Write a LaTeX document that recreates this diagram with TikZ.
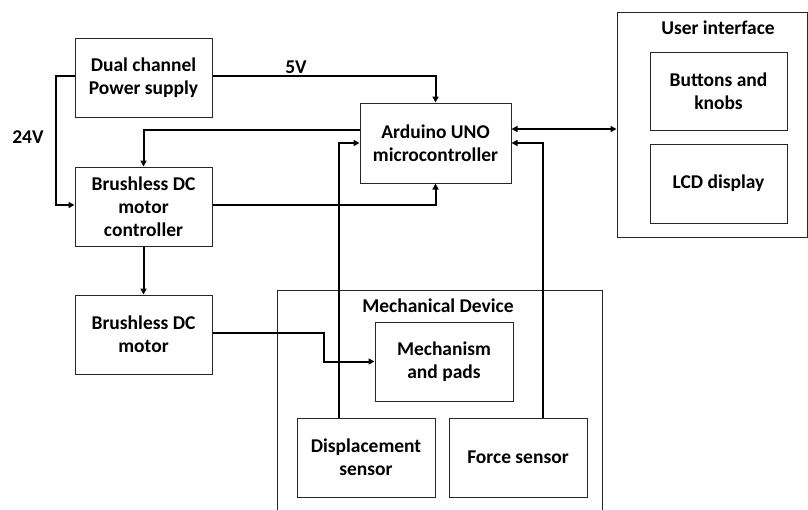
\documentclass[tikz,border=0pt]{standalone}
\usepackage{fontspec}
\setmainfont{Carlito}
\usetikzlibrary{arrows.meta,calc}
\tikzset{
  blk/.style={draw=black!85, line width=1pt, align=center, inner sep=0pt,
    font=\fontsize{19.5}{23}\selectfont\bfseries},
  ttl/.style={align=center, inner sep=0pt, font=\fontsize{19.5}{23}\selectfont\bfseries},
  conn/.style={line width=2pt, -{Triangle[length=6pt,width=6pt]}},
  wire/.style={line width=2pt}
}
\begin{document}
\begin{tikzpicture}[x=1pt,y=-1pt]
\useasboundingbox (0,0) rectangle (808,509);
\clip (0,0) rectangle (808,509);
% boxes
\node[blk, minimum width=137pt, minimum height=79pt] (ps) at (143.5,77.5) {Dual channel\\Power supply};
\node[blk, minimum width=151pt, minimum height=80pt] (ard) at (435.5,143) {Arduino UNO\\microcontroller};
\node[blk, minimum width=137pt, minimum height=79pt] (ctrl) at (143.5,206.5) {Brushless DC\\motor\\controller};
\node[blk, minimum width=137pt, minimum height=79pt] (motor) at (143.5,334.5) {Brushless DC\\motor};
\node[blk, minimum width=190pt, minimum height=225pt] (ui) at (712,124.5) {};
\node[ttl] (uit) at (718,28) {User interface};
\node[blk, minimum width=137pt, minimum height=78pt] (btn) at (718.5,91) {Buttons and\\knobs};
\node[blk, minimum width=137pt, minimum height=79pt] (lcd) at (718.5,183.5) {LCD display};
\node[blk, minimum width=325pt, minimum height=240pt] (mech) at (439.5,410) {};
\node[ttl] (mecht) at (438,306) {Mechanical Device};
\node[blk, minimum width=138pt, minimum height=79pt] (mp) at (444,361.5) {Mechanism\\and pads};
\node[blk, minimum width=138pt, minimum height=79pt] (disp) at (366,457.5) {Displacement\\sensor};
\node[blk, minimum width=138pt, minimum height=79pt] (force) at (518,457.5) {Force sensor};
% labels
\node[ttl] (l24) at (28,137) {24V};
\node[ttl] (l5) at (296,67) {5V};
% connectors
\draw[conn] ([yshift=1.5pt]ps.west) -- ++(-19,0) |- ([yshift=1.5pt]ctrl.west);
\draw[conn] ([yshift=1.5pt]ps.east) -| (ard.north);
\draw[conn] ([yshift=13pt]ard.west) -| (ctrl.north);
\draw[conn] ([yshift=1.5pt]ctrl.east) -| (ard.south);
\draw[conn] (ctrl.south) -- (motor.north);
\draw[conn] ([yshift=1.5pt]motor.east) -- ++(111,0) |- (mp.west);
\draw[conn] ([xshift=-27pt]disp.north) |- (ard.west);
\draw[conn] ([xshift=25pt]force.north) |- (ard.east);
\draw[wire, {Triangle[length=6pt,width=6pt]}-{Triangle[length=6pt,width=6pt]}] ([yshift=14pt]ard.east) coordinate (a) -- (a -| ui.west);
\end{tikzpicture}
\end{document}
